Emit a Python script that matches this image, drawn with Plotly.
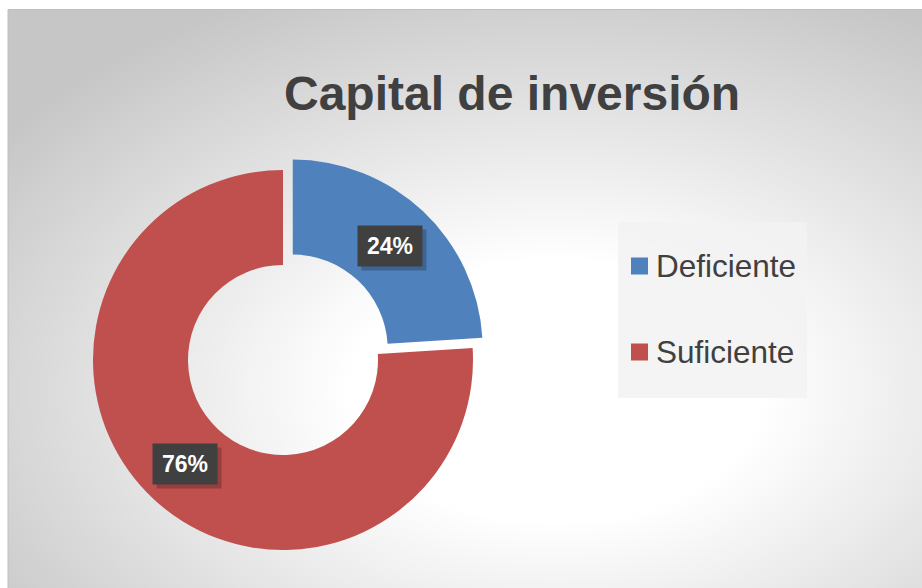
import math
import base64
import plotly.graph_objects as go

# ---- data ----
labels = ["Deficiente", "Suficiente"]
values = [24, 76]
colors = ["#4F81BD", "#C0504D"]
pulls = [0.075, 0.0]
title_text = "Capital de inversión"

W, H = 922, 588
# pie geometry (pixels)
CX, CY, R = 283, 360, 190
HOLE = 0.5
max_pull = max(pulls)
box = 2 * R * (1 + max_pull)

def px(x):
    return x / W

def py(y):
    return 1 - y / H

# background radial gradient
svg = (
    "<svg xmlns='http://www.w3.org/2000/svg' width='914' height='579' preserveAspectRatio='none'>"
    "<defs><radialGradient id='g' cx='0.60' cy='0.66' r='0.75'>"
    "<stop offset='0' stop-color='#ffffff'/>"
    "<stop offset='0.3' stop-color='#ffffff'/>"
    "<stop offset='1' stop-color='#c6c6c6'/>"
    "</radialGradient></defs>"
    "<rect width='914' height='579' fill='url(#g)'/></svg>"
)
src = "data:image/svg+xml;base64," + base64.b64encode(svg.encode()).decode()

fig = go.Figure()
fig.add_trace(go.Pie(
    labels=labels, values=values, hole=HOLE, sort=False,
    direction="clockwise", rotation=0, pull=pulls,
    marker=dict(colors=colors, line=dict(width=0)),
    textinfo="none", hoverinfo="label+percent", showlegend=False,
    domain=dict(x=[px(CX - box / 2), px(CX + box / 2)],
                y=[py(CY + box / 2), py(CY - box / 2)]),
))

annotations = []
shapes = []

# data labels
total = sum(values)
cum = 0
for lab, v, p in zip(labels, values, pulls):
    mid = math.radians((cum + v / 2) / total * 360)
    cum += v
    ccx = CX + math.sin(mid) * p * R
    ccy = CY - math.cos(mid) * p * R
    rr = R * (1 + HOLE) / 2
    lx = ccx + math.sin(mid) * rr
    ly = ccy - math.cos(mid) * rr
    pct = f"{round(v / total * 100)}%"
    # shadow
    annotations.append(dict(
        x=px(lx + 4), y=py(ly + 4), xref="paper", yref="paper",
        xanchor="center", yanchor="middle",
        text=" ", showarrow=False, width=60, height=36, borderpad=2,
        bgcolor="rgba(0,0,0,0.22)"))
    annotations.append(dict(
        x=px(lx), y=py(ly), xref="paper", yref="paper",
        xanchor="center", yanchor="middle",
        text=f"<b>{pct}</b>", showarrow=False, width=60, height=36, borderpad=2,
        bgcolor="#404040",
        font=dict(family="Liberation Sans, Arial", size=23, color="#ffffff")))

# custom legend
LX0, LY0, LX1, LY1 = 618, 222, 807, 398
shapes.append(dict(type="rect", xref="paper", yref="paper",
                   x0=px(LX0), x1=px(LX1), y0=py(LY1), y1=py(LY0),
                   fillcolor="rgba(242,242,242,0.85)", line=dict(width=0), layer="above"))
item_y = [266, 352]
for lab, col, yy in zip(labels, colors, item_y):
    shapes.append(dict(type="rect", xref="paper", yref="paper",
                       x0=px(631), x1=px(648), y0=py(yy + 8.5), y1=py(yy - 8.5),
                       fillcolor=col, line=dict(width=0), layer="above"))
    annotations.append(dict(
        x=px(654), y=py(yy), xref="paper", yref="paper", xanchor="left", yanchor="middle",
        text=lab, showarrow=False,
        font=dict(family="Liberation Sans, Arial", size=31.5, color="#404040")))

# border of chart area
shapes.append(dict(type="rect", xref="paper", yref="paper",
                   x0=px(8), x1=px(W + 5), y0=py(H + 5), y1=py(9.5),
                   line=dict(color="#bfbfbf", width=1), layer="below"))

# title
annotations.append(dict(
    x=px(512), y=py(93), xref="paper", yref="paper", xanchor="center", yanchor="middle",
    text=f"<b>{title_text}</b>", showarrow=False,
    font=dict(family="Liberation Sans, Arial", size=48, color="#404040")))

fig.update_layout(
    width=W, height=H,
    margin=dict(l=0, r=0, t=0, b=0),
    paper_bgcolor="#ffffff",
    images=[dict(source=src, xref="paper", yref="paper",
                 x=px(8), y=py(9), sizex=(W - 8) / W, sizey=(H - 9) / H,
                 xanchor="left", yanchor="top", sizing="stretch", layer="below")],
    shapes=shapes,
    annotations=annotations,
)

fig.write_html("out.html", config={"displayModeBar": False},
               post_script="document.body.style.margin='0';document.body.style.overflow='hidden';")
